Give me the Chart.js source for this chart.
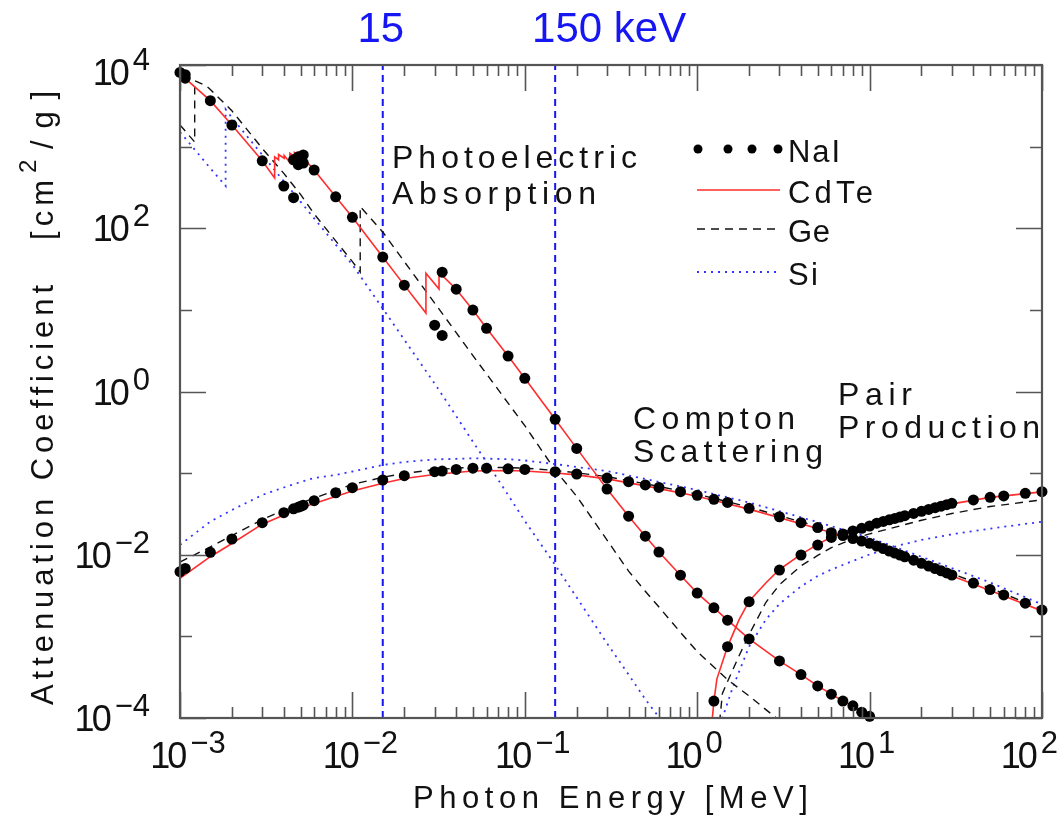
<!DOCTYPE html>
<html><head><meta charset="utf-8">
<script src="https://cdn.jsdelivr.net/npm/chart.js@4.4.0/dist/chart.umd.min.js"></script>
<style>html,body{margin:0;padding:0;background:#fff}</style>
</head><body>
<canvas id="c" width="1062" height="819"></canvas>
<script>
// energies in MeV, attenuation in cm2/g

// NaI (dots)
const naiPhotoE = [0.001, 0.001072, 0.001072, 0.0015, 0.002, 0.003, 0.004, 0.004557, 0.004557, 0.004852, 0.004852, 0.005, 0.005188, 0.005188, 0.006, 0.008, 0.01, 0.015, 0.02, 0.03, 0.03317, 0.03317, 0.04, 0.05, 0.06, 0.08, 0.1, 0.15, 0.2, 0.3, 0.4, 0.5, 0.6, 0.8, 1, 1.25, 1.5, 2, 3, 4, 5, 6, 7, 8, 9, 10];
const naiPhotoMu = [8100, 6900, 7600, 3660, 1840, 671, 329, 237, 690, 600, 750, 690, 630, 790, 517, 243, 136, 44.4, 20.1, 6.5, 4.87, 29.0, 17.9, 9.95, 5.94, 2.72, 1.45, 0.456, 0.201, 0.0637, 0.0297, 0.0169, 0.0108, 0.00562, 0.00339, 0.00224, 0.00158, 0.00093, 0.0005, 0.00034, 0.000247, 0.000196, 0.000161, 0.000141, 0.000118, 0.000105];

const naiComptE = [0.001, 0.001072, 0.0015, 0.002, 0.003, 0.004, 0.004557, 0.004852, 0.005, 0.005188, 0.006, 0.008, 0.01, 0.015, 0.02, 0.03, 0.03317, 0.04, 0.05, 0.06, 0.08, 0.1, 0.15, 0.2, 0.3, 0.4, 0.5, 0.6, 0.8, 1, 1.25, 1.5, 2, 3, 4, 5, 6, 7, 8, 9, 10, 11, 12, 13, 14, 15, 16, 18, 20, 22, 24, 26, 28, 30, 40, 50, 60, 80, 100];
const naiComptMu = [0.0062, 0.0068, 0.0107, 0.0156, 0.0247, 0.0328, 0.0365, 0.0383, 0.0392, 0.0405, 0.0459, 0.0575, 0.0663, 0.0824, 0.093, 0.104, 0.106, 0.111, 0.115, 0.115, 0.113, 0.111, 0.104, 0.0976, 0.0871, 0.0785, 0.0716, 0.0667, 0.0592, 0.0535, 0.0478, 0.0437, 0.0371, 0.0292, 0.0247, 0.0215, 0.0186, 0.0172, 0.0158, 0.0147, 0.0138, 0.0128, 0.0119, 0.0111, 0.0105, 0.00993, 0.00942, 0.00857, 0.00786, 0.00728, 0.00678, 0.00635, 0.00598, 0.00565, 0.0045, 0.00375, 0.00322, 0.00255, 0.0021];

const naiPairE = [1.25, 1.5, 2, 3, 4, 5, 6, 7, 8, 9, 10, 11, 12, 13, 14, 15, 16, 18, 20, 22, 24, 26, 28, 30, 40, 50, 60, 80, 100];
const naiPairMu = [0.000161, 0.000748, 0.00266, 0.0065, 0.00993, 0.01316, 0.0163, 0.018, 0.0196, 0.0211, 0.0225, 0.0244, 0.0256, 0.0268, 0.0279, 0.029, 0.0301, 0.0321, 0.034, 0.0359, 0.0377, 0.0394, 0.041, 0.0427, 0.0469, 0.0506, 0.0525, 0.0566, 0.0592];

// CdTe (red solid)
const cdtePhotoE = [0.001, 0.0015, 0.002, 0.003, 0.00354, 0.00354, 0.00373, 0.00373, 0.00402, 0.00402, 0.00434, 0.00434, 0.00461, 0.00461, 0.00494, 0.00494, 0.006, 0.008, 0.01, 0.015, 0.02, 0.0267, 0.0267, 0.0318, 0.0318, 0.04, 0.05, 0.06, 0.08, 0.1, 0.15, 0.2, 0.3, 0.4, 0.5, 0.6, 0.8, 1, 1.25, 1.5, 2, 3, 4, 5, 6, 7, 8, 9, 10];
const cdtePhotoMu = [7800, 3660, 1840, 671, 413, 750, 690, 800, 720, 780, 640, 830, 760, 850, 780, 820, 517, 243, 136, 44.4, 20.1, 9.14, 28.2, 18.0, 29.0, 17.9, 9.95, 5.94, 2.72, 1.45, 0.456, 0.201, 0.0637, 0.0297, 0.0169, 0.0108, 0.00562, 0.00339, 0.00224, 0.00158, 0.00093, 0.0005, 0.00034, 0.000247, 0.000196, 0.000161, 0.000141, 0.000118, 0.000105];
const cdteComptE = [0.001, 0.0015, 0.002, 0.003, 0.005, 0.01, 0.015, 0.02, 0.03, 0.05, 0.08, 0.1, 0.15, 0.2, 0.3, 0.5, 1, 2, 5, 10, 20, 50, 100];
const cdteComptMu = [0.00515, 0.00946, 0.01375, 0.0237, 0.0374, 0.0604, 0.075, 0.0859, 0.0962, 0.106, 0.1077, 0.106, 0.1005, 0.0952, 0.085, 0.0698, 0.0522, 0.0362, 0.021, 0.01345, 0.00767, 0.00366, 0.00205];
const cdtePairE = [1.15, 1.25, 1.3, 1.5, 1.75, 2, 2.5, 3, 4, 5, 6, 8, 10, 20, 30, 50, 100];
const cdtePairMu = [0.000025, 0.00016, 0.0003, 0.00075, 0.0016, 0.0027, 0.0045, 0.0066, 0.0101, 0.0134, 0.0165, 0.0198, 0.0228, 0.0335, 0.042, 0.0505, 0.059];

// Ge (black dashed)
const gePhotoE = [0.001, 0.001217, 0.001217, 0.001414, 0.0015, 0.002, 0.003, 0.004, 0.005, 0.006, 0.008, 0.01, 0.0111, 0.0111, 0.015, 0.02, 0.03, 0.04, 0.05, 0.06, 0.08, 0.1, 0.15, 0.2, 0.3, 0.4, 0.5, 0.6, 0.8, 1, 1.5, 2, 3];
const gePhotoMu = [1840, 1140, 6400, 5600, 5000, 2750, 950, 470, 260, 150, 70, 39, 29, 184, 90, 39, 12.1, 5.27, 2.75, 1.64, 0.72, 0.381, 0.109, 0.052, 0.0151, 0.0063, 0.00357, 0.00229, 0.00112, 0.00065, 0.000295, 0.000186, 0.000093];
const geComptE = [0.001, 0.0015, 0.002, 0.003, 0.005, 0.01, 0.015, 0.02, 0.03, 0.05, 0.08, 0.1, 0.15, 0.2, 0.3, 0.5, 1, 2, 5, 10, 20, 50, 100];
const geComptMu = [0.00815, 0.01245, 0.0172, 0.027, 0.043, 0.0726, 0.089, 0.0989, 0.1107, 0.118, 0.117, 0.115, 0.108, 0.101, 0.0905, 0.074, 0.0553, 0.0383, 0.0222, 0.0142, 0.0081, 0.0039, 0.00215];
const gePairE = [1.3, 1.4, 1.5, 1.75, 2, 2.5, 3, 4, 5, 6, 8, 10, 20, 30, 50, 100];
const gePairMu = [0.00004, 0.0002, 0.00028, 0.00058, 0.00105, 0.0026, 0.0043, 0.0073, 0.0098, 0.0122, 0.0156, 0.018, 0.0265, 0.032, 0.039, 0.047];

// Si (blue dotted)
const siPhotoE = [0.001, 0.0015, 0.001839, 0.001839, 0.002, 0.003, 0.004, 0.005, 0.006, 0.008, 0.01, 0.015, 0.02, 0.03, 0.04, 0.05, 0.06, 0.08, 0.1, 0.15, 0.2, 0.3, 0.4, 0.5, 0.6, 0.8];
const siPhotoMu = [1510, 543, 329, 2870, 2260, 794, 376, 212, 132, 63, 35.8, 10.4, 4.3, 1.25, 0.5, 0.242, 0.137, 0.054, 0.026, 0.0075, 0.003, 0.00082, 0.00034, 0.00017, 0.000102, 0.000045];
const siComptE = [0.001, 0.0015, 0.002, 0.003, 0.004, 0.005, 0.006, 0.008, 0.01, 0.015, 0.02, 0.03, 0.05, 0.08, 0.1, 0.15, 0.2, 0.3, 0.5, 1, 2, 5, 10, 20, 50, 100];
const siComptMu = [0.0132, 0.0255, 0.0353, 0.054, 0.0667, 0.0778, 0.087, 0.0948, 0.1047, 0.126, 0.137, 0.147, 0.152, 0.148, 0.143, 0.129, 0.119, 0.106, 0.0847, 0.0621, 0.0436, 0.0251, 0.0162, 0.00944, 0.00458, 0.00247];
const siPairE = [1.35, 1.4, 1.6, 2, 2.5, 3, 4, 5, 6, 8, 10, 15, 20, 30, 50, 100];
const siPairMu = [0.00003, 0.0001, 0.00023, 0.00075, 0.0016, 0.0025, 0.0041, 0.0055, 0.0066, 0.0084, 0.0101, 0.0131, 0.0152, 0.0178, 0.0209, 0.0254];

// marker energies (15 and 150 keV)
const markerE = [0.015, 0.15];
const markerLabels = ['15', '150 keV'];

const xTickPow = [-3, -2, -1, 0, 1, 2];
const yTickPow = [-4, -3, -2, -1, 0, 1, 2, 3, 4];

const pts = (E, m) => E.map((e, i) => ({x: e, y: m[i]}));

const RED = '#ff2d2d', BLUE = '#3434ff', VBLUE = '#1616f2';

function dotsSet(E, m) {
  return {data: pts(E, m), showLine: false, pointRadius: 5.5, pointHoverRadius: 5.5,
    pointBackgroundColor: '#000', pointBorderColor: '#000', pointBorderWidth: 0, clip: false};
}
function lineSet(E, m, color, dash, w) {
  return {data: pts(E, m), showLine: true, pointRadius: 0, borderColor: color,
    borderWidth: w, borderDash: dash, tension: 0, fill: false};
}

const datasets = [
  dotsSet(naiPhotoE, naiPhotoMu), dotsSet(naiComptE, naiComptMu), dotsSet(naiPairE, naiPairMu),
  lineSet(cdtePhotoE, cdtePhotoMu, RED, [], 1.6), lineSet(cdteComptE, cdteComptMu, RED, [], 1.6), lineSet(cdtePairE, cdtePairMu, RED, [], 1.6),
  lineSet(gePhotoE, gePhotoMu, '#111', [8, 6], 1.4), lineSet(geComptE, geComptMu, '#111', [8, 6], 1.4), lineSet(gePairE, gePairMu, '#111', [8, 6], 1.4),
  lineSet(siPhotoE, siPhotoMu, BLUE, [2, 5], 1.8), lineSet(siComptE, siComptMu, BLUE, [2, 5], 1.8), lineSet(siPairE, siPairMu, BLUE, [2, 5], 1.8),
];
markerE.forEach(e => datasets.push(lineSet([e, e], [1e-4, 1e4], VBLUE, [7, 5], 2)));

function spaced(ctx, txt, x, y, w) {
  ctx.letterSpacing = '0px';
  const base = ctx.measureText(txt).width;
  const ls = txt.length > 1 ? (w - base) / (txt.length - 1) : 0;
  ctx.letterSpacing = ls.toFixed(2) + 'px';
  ctx.fillText(txt, x, y);
  ctx.letterSpacing = '0px';
}

const FONT = '"Liberation Sans", Arial, sans-serif';

// "10" with a raised exponent, left edge at x; returns total width
function pow10(ctx, p, x, base, measureOnly) {
  const ex = (p < 0 ? '\u2212' : '') + Math.abs(p);
  ctx.font = '36px ' + FONT;
  ctx.letterSpacing = '-3px';
  const w1 = ctx.measureText('10').width;
  if (!measureOnly) ctx.fillText('10', x, base);
  ctx.letterSpacing = '0px';
  ctx.font = '31px ' + FONT;
  const w2 = ctx.measureText(ex).width;
  if (!measureOnly) ctx.fillText(ex, x + w1 + 6, base - 15);
  return w1 + 6 + w2;
}

const decor = {
  id: 'decor',
  afterDatasetsDraw(chart) {
    const {ctx, chartArea: a, scales: {x, y}} = chart;
    ctx.save();
    // ticks on all four sides
    ctx.strokeStyle = '#555';
    ctx.lineWidth = 1.6;
    ctx.beginPath();
    xTickPow.forEach(p => {
      const px = Math.round(x.getPixelForValue(Math.pow(10, p))) + 0.5;
      ctx.moveTo(px, a.bottom); ctx.lineTo(px, a.bottom - 26);
      ctx.moveTo(px, a.top); ctx.lineTo(px, a.top + 26);
      if (p < 2) for (let k = 2; k <= 9; k++) {
        const q = Math.round(x.getPixelForValue(k * Math.pow(10, p))) + 0.5;
        ctx.moveTo(q, a.bottom); ctx.lineTo(q, a.bottom - 11);
        ctx.moveTo(q, a.top); ctx.lineTo(q, a.top + 11);
      }
    });
    yTickPow.forEach(p => {
      const py = Math.round(y.getPixelForValue(Math.pow(10, p))) + 0.5;
      const len = p % 2 === 0 ? 26 : 12;
      ctx.moveTo(a.left, py); ctx.lineTo(a.left + len, py);
      ctx.moveTo(a.right, py); ctx.lineTo(a.right - len, py);
    });
    ctx.stroke();
    ctx.lineWidth = 2.2;
    ctx.strokeRect(a.left, a.top, a.right - a.left, a.bottom - a.top);

    // tick labels 10^n
    ctx.fillStyle = '#111';
    ctx.textBaseline = 'alphabetic';
    ctx.textAlign = 'left';
    xTickPow.forEach(p => {
      const px = x.getPixelForValue(Math.pow(10, p)) + (p < 0 ? 8 : -3);
      const w = pow10(ctx, p, 0, 0, true);
      let left = px - w / 2;
      if (left + w > 1058) left = 1058 - w;
      pow10(ctx, p, left, 768);
    });
    yTickPow.filter(p => p % 2 === 0).forEach(p => {
      const py = Math.max(y.getPixelForValue(Math.pow(10, p)), 72);
      const w = pow10(ctx, p, 0, 0, true);
      pow10(ctx, p, 150 - w, py + 13);
    });

    // axis titles
    ctx.font = '31px ' + FONT;
    spaced(ctx, 'Photon Energy [MeV]', 413, 808, 395);
    ctx.save();
    ctx.translate(53, 705);
    ctx.rotate(-Math.PI / 2);
    spaced(ctx, 'Attenuation Coefficient', 0, 0, 420);
    spaced(ctx, '[cm', 465, 0, 60);
    ctx.font = '24px ' + FONT;
    ctx.fillText('2', 532, -17);
    ctx.font = '31px ' + FONT;
    spaced(ctx, '/g]', 556, 0, 58);
    ctx.restore();

    // process annotations
    ctx.font = '32px ' + FONT;
    spaced(ctx, 'Photoelectric', 392, 168, 245);
    spaced(ctx, 'Absorption', 392, 204, 204);
    spaced(ctx, 'Compton', 633, 429, 162);
    spaced(ctx, 'Scattering', 633, 462, 190);
    spaced(ctx, 'Pair', 838, 405, 74);
    spaced(ctx, 'Production', 838, 438, 202);

    // legend
    ctx.font = '31px ' + FONT;
    spaced(ctx, 'NaI', 788, 162, 52);
    spaced(ctx, 'CdTe', 788, 203, 85);
    spaced(ctx, 'Ge', 788, 242, 42);
    spaced(ctx, 'Si', 788, 285, 30);
    ctx.fillStyle = '#000';
    [698, 728, 752, 778].forEach(cx => { ctx.beginPath(); ctx.arc(cx, 149, 4.5, 0, Math.PI * 2); ctx.fill(); });
    const leg = (yy, color, dash, w) => {
      ctx.setLineDash(dash); ctx.strokeStyle = color; ctx.lineWidth = w;
      ctx.beginPath(); ctx.moveTo(697, yy); ctx.lineTo(780, yy); ctx.stroke();
    };
    leg(190, RED, [], 1.6);
    leg(229, '#111', [8, 6], 1.4);
    leg(272, BLUE, [2, 5], 1.8);
    ctx.setLineDash([]);

    // marker labels
    ctx.fillStyle = VBLUE;
    ctx.font = '42px ' + FONT;
    ctx.textAlign = 'center';
    ctx.fillText(markerLabels[0], x.getPixelForValue(markerE[0]) - 2, 42);
    ctx.fillText(markerLabels[1], x.getPixelForValue(markerE[1]) + 54, 42);
    ctx.restore();
  }
};

new Chart(document.getElementById('c'), {
  type: 'scatter',
  data: {datasets},
  options: {
    responsive: false,
    animation: false,
    devicePixelRatio: 1,
    layout: {padding: {left: 180, top: 65, right: 20, bottom: 101}},
    plugins: {legend: {display: false}, tooltip: {enabled: false}},
    scales: {
      x: {type: 'logarithmic', min: 1e-3, max: 1e2, display: false},
      y: {type: 'logarithmic', min: 1e-4, max: 1e4, display: false}
    }
  },
  plugins: [decor]
});
</script>
</body></html>
